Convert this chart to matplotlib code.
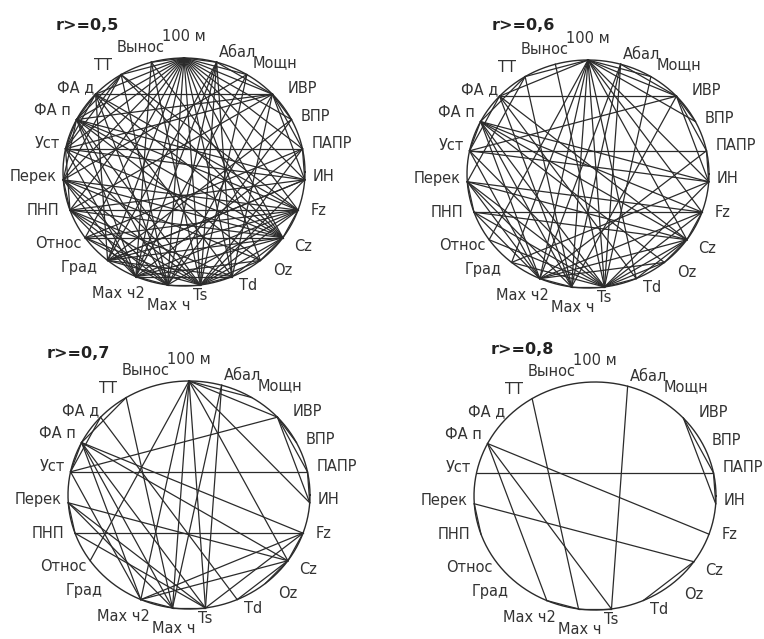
import numpy as np
import matplotlib.pyplot as plt

# node names around the circle, clockwise from the top
nodes = ['100 м', 'Абал', 'Мощн', 'ИВР', 'ВПР', 'ПАПР', 'ИН', 'Fz', 'Cz', 'Oz',
         'Td', 'Ts', 'Max ч', 'Max ч2', 'Град', 'Относ', 'ПНП', 'Перек', 'Уст',
         'ФА п', 'ФА д', 'ТТ', 'Вынос']

# correlation links (estimated |r| level of each pair)
edge_a = [
    # r >= 0.8
    'Уст', 'Абал', 'ТТ', 'ФА п', 'ФА п', 'ФА п', 'Перек', 'Перек', 'ИВР', 'ИВР',
    'ПАПР', 'Cz', 'Max ч2', 'Max ч',
    # 0.7 .. 0.8
    '100 м', '100 м', '100 м', '100 м', '100 м', '100 м', '100 м', '100 м', 'ТТ', 'ФА д',
    'ФА п', 'ФА п', 'ФА п', 'Уст', 'Уст', 'Уст', 'Перек', 'Перек', 'ПНП', 'ПНП',
    'Max ч2', 'Max ч2', 'Ts', 'ИВР', 'Fz', 'Cz', 'Абал',
    # 0.6 .. 0.7
    '100 м', '100 м', '100 м', '100 м', '100 м', '100 м', 'Абал', 'Абал', 'ФА д', 'ФА д',
    'ФА д', 'ФА п', 'ФА п', 'Уст', 'Уст', 'Перек', 'Перек', 'ПНП', 'ПНП', 'Относ',
    'Град', 'Ts', 'Ts', 'Ts', 'Ts', 'Max ч2', 'ПАПР', 'ИН', 'Вынос', 'ТТ',
    'ИВР', 'Мощн',
    # 0.5 .. 0.6
    '100 м', '100 м', '100 м', '100 м', '100 м', '100 м', '100 м', '100 м', 'Абал', 'Абал',
    'Мощн', 'Мощн', 'ИВР', 'ИВР', 'ИВР', 'ВПР', 'ВПР', 'ПАПР', 'ПАПР', 'ИН',
    'ИН', 'Fz', 'Fz', 'Fz', 'Cz', 'Cz', 'Oz', 'Td', 'Td', 'Max ч',
    'Max ч', 'Max ч2', 'Град', 'Относ', 'ПНП', 'Перек', 'Уст', 'ФА п', 'ФА д', 'ТТ',
    'Вынос', 'Вынос', 'ФА д',
]
edge_b = [
    'ПАПР', 'Ts', 'Max ч', 'Fz', 'Max ч2', 'Ts', 'Cz', 'ПНП', 'ИН', 'ПАПР',
    'ИН', 'Td', 'Max ч', 'Ts',
    'Max ч2', 'Max ч', 'Ts', 'Относ', 'ИН', 'Cz', 'ИВР', 'Мощн', 'ФА п', 'Td',
    'Cz', 'Max ч', 'Уст', 'ИВР', 'Max ч2', 'ФА д', 'Ts', 'Max ч', 'Fz', 'Ts',
    'Fz', 'Cz', 'Fz', 'ВПР', 'Cz', 'Oz', 'Max ч',
    'Град', 'Td', 'Fz', 'ТТ', 'ФА д', 'ВПР', 'Max ч2', 'ИВР', 'ИВР', 'Max ч',
    'Cz', 'ИН', 'Oz', 'Ts', 'ИН', 'Fz', 'Max ч2', 'Cz', 'Max ч2', 'Ts',
    'Ts', 'Cz', 'ИН', 'Oz', 'Td', 'Oz', 'Max ч2', 'Град', 'Ts', 'Перек',
    'Max ч', 'Ts',
    'ПНП', 'Перек', 'Уст', 'ФА п', 'Oz', 'ПАПР', 'Абал', 'Вынос', 'Град', 'Td',
    'Max ч2', 'Перек', 'ПНП', 'ФА п', 'Td', 'Max ч', 'Град', 'Относ', 'Ts', 'Град',
    'ПНП', 'Относ', 'Град', 'ТТ', 'Относ', 'Уст', 'Перек', 'ПНП', 'Град', 'Fz',
    'ПНП', 'Td', 'Cz', 'Max ч', 'Уст', 'ФА п', 'ТТ', 'ФА д', 'Fz', 'Cz',
    'Max ч2', 'Cz', 'Град',
]
edge_r = [0.84] * 14 + [0.74] * 27 + [0.64] * 32 + [0.54] * 43

thresholds = [0.5, 0.6, 0.7, 0.8]
titles = ['r>=0,5', 'r>=0,6', 'r>=0,7', 'r>=0,8']

W, H = 764, 639
fig = plt.figure(figsize=(W / 100, H / 100), dpi=100)

# layout: circle centres / radii and title anchors in pixels
centres = [(184, 172), (588, 174), (189, 495), (595, 496)]
rx, ry = 121, 114
title_xy = [(87, 26), (523, 25), (78, 353), (522, 350)]
# label placement (angle in degrees, radius relative to circle)
label_ang = [90, 67, 52, 37, 24, 11.4, -2, -17, -33.5, -46.7, -62, -83, -96, -117,
             -136, -149, -164, -178, 167.5, 153.6, 140.6, 125.7, 108]
label_rad = [1.19, 1.14, 1.22, 1.22, 1.19, 1.25, 1.15, 1.16, 1.18, 1.19, 1.13, 1.09,
             1.18, 1.2, 1.2, 1.21, 1.21, 1.25, 1.16, 1.21, 1.16, 1.15, 1.15]
pad = 1.5
ink = '#2b2b2b'

ang = np.deg2rad(90 - np.arange(len(nodes)) * 360 / len(nodes))
nx, ny = np.cos(ang), np.sin(ang)
idx = {n: i for i, n in enumerate(nodes)}
la = np.deg2rad(label_ang)
lx, ly = np.array(label_rad) * np.cos(la), np.array(label_rad) * np.sin(la)

for k, thr in enumerate(thresholds):
    cx, cy = centres[k]
    ax = fig.add_axes([(cx - pad * rx) / W, 1 - (cy + pad * ry) / H,
                       2 * pad * rx / W, 2 * pad * ry / H])
    ax.set_xlim(-pad, pad)
    ax.set_ylim(-pad, pad)
    ax.axis('off')
    ax.patch.set_alpha(0)

    t = np.linspace(0, 2 * np.pi, 400)
    ax.plot(np.cos(t), np.sin(t), color=ink, lw=1.0)

    for a, b, r in zip(edge_a, edge_b, edge_r):
        if r >= thr:
            i, j = idx[a], idx[b]
            ax.plot([nx[i], nx[j]], [ny[i], ny[j]], color=ink, lw=0.9)

    for i, name in enumerate(nodes):
        ax.text(lx[i], ly[i], name, ha='center', va='center',
                fontsize=10.5, color='#333333')

    fig.text(title_xy[k][0] / W, 1 - title_xy[k][1] / H, titles[k],
             ha='center', va='center', fontsize=11.5, fontweight='bold', color='#222222')

fig.savefig('out.png', dpi=100, facecolor='white')
